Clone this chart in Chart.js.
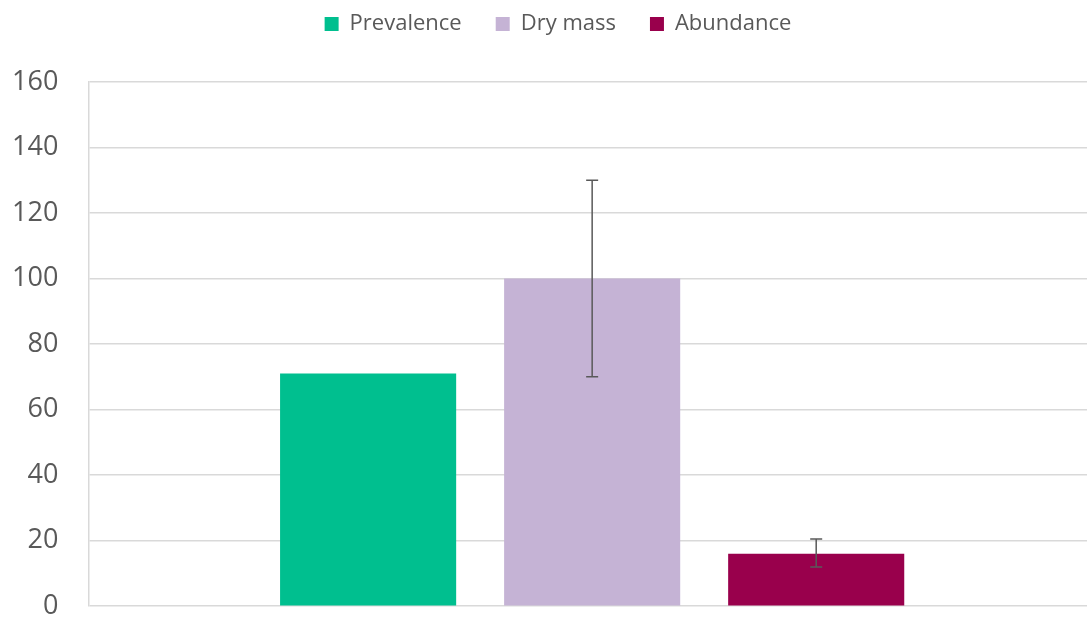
<!DOCTYPE html>
<html>
<head>
<meta charset="utf-8">
<script src="https://cdn.jsdelivr.net/npm/chart.js@4.4.0/dist/chart.umd.min.js"></script>
<style>
  html, body { margin: 0; padding: 0; background: #fff; overflow: hidden; }
  #wrap { width: 1096px; height: 617px; }
</style>
</head>
<body>
<div id="wrap"><canvas id="barChart"></canvas></div>
<script>
// Values
const categories = [''];
const seriesNames = ['Prevalence', 'Dry mass', 'Abundance'];
const seriesValues = [71, 100, 16];
const errorLow = [null, 70, 12];
const errorHigh = [null, 130, 20.5];
const seriesColors = ['#00bf8f', '#c5b3d5', '#99004c'];
const yTicks = [0, 20, 40, 60, 80, 100, 120, 140, 160];

// Draw error bars on top of each bar using the chart's own scales
const errorBarsPlugin = {
    id: 'errorBars',
    afterDatasetsDraw(chart) {
        const ctx = chart.ctx;
        const yScale = chart.scales.y;
        ctx.save();
        ctx.strokeStyle = '#595959';
        ctx.lineWidth = 1.5;
        chart.data.datasets.forEach((ds, i) => {
            if (errorLow[i] === null) return;
            const bar = chart.getDatasetMeta(i).data[0];
            const x = bar.x;
            const yTop = yScale.getPixelForValue(errorHigh[i]);
            const yBot = yScale.getPixelForValue(errorLow[i]);
            ctx.beginPath();
            ctx.moveTo(x, yTop); ctx.lineTo(x, yBot);
            ctx.moveTo(x - 6, yTop); ctx.lineTo(x + 6, yTop);
            ctx.moveTo(x - 6, yBot); ctx.lineTo(x + 6, yBot);
            ctx.stroke();
        });
        ctx.restore();
    }
};

// Extra room under the legend, and nudge it a little to the right
const legendMargin = {
    id: 'legendMargin',
    beforeInit(chart) {
        const fit = chart.legend.fit;
        chart.legend.fit = function () {
            fit.bind(chart.legend)();
            this.height += 37;
        };
    },
    afterLayout(chart) {
        chart.legend.left += 4;
        chart.legend.right += 4;
    }
};

const ctx = document.getElementById('barChart').getContext('2d');

new Chart(ctx, {
    type: 'bar',
    data: {
        labels: categories,
        datasets: seriesNames.map((name, i) => ({
            label: name,
            data: [seriesValues[i]],
            backgroundColor: seriesColors[i],
            borderWidth: 0,
            categoryPercentage: 0.667,
            barPercentage: 0.786
        }))
    },
    options: {
        responsive: true,
        maintainAspectRatio: false,
        animation: false,
        layout: {
            padding: { left: 12, right: 0, top: -21, bottom: 0 }
        },
        plugins: {
            legend: {
                position: 'top',
                labels: {
                    boxWidth: 14,
                    boxHeight: 14,
                    padding: 34,
                    color: '#595959',
                    font: { family: 'Open Sans', size: 22 }
                }
            },
            tooltip: { enabled: false }
        },
        scales: {
            x: {
                display: false
            },
            y: {
                min: 0,
                max: 160,
                afterBuildTicks: (axis) => {
                    axis.ticks = yTicks.map(v => ({ value: v }));
                },
                border: { display: true, color: '#d9d9d9', width: 1.5 },
                grid: {
                    color: '#d9d9d9',
                    lineWidth: 1.5,
                    drawTicks: true,
                    tickLength: 30,
                    tickColor: 'rgba(0,0,0,0)'
                },
                ticks: {
                    padding: 0,
                    color: '#595959',
                    font: { family: 'Open Sans', size: 27, lineHeight: 0.8 }
                }
            }
        }
    },
    plugins: [errorBarsPlugin, legendMargin]
});
</script>
</body>
</html>
